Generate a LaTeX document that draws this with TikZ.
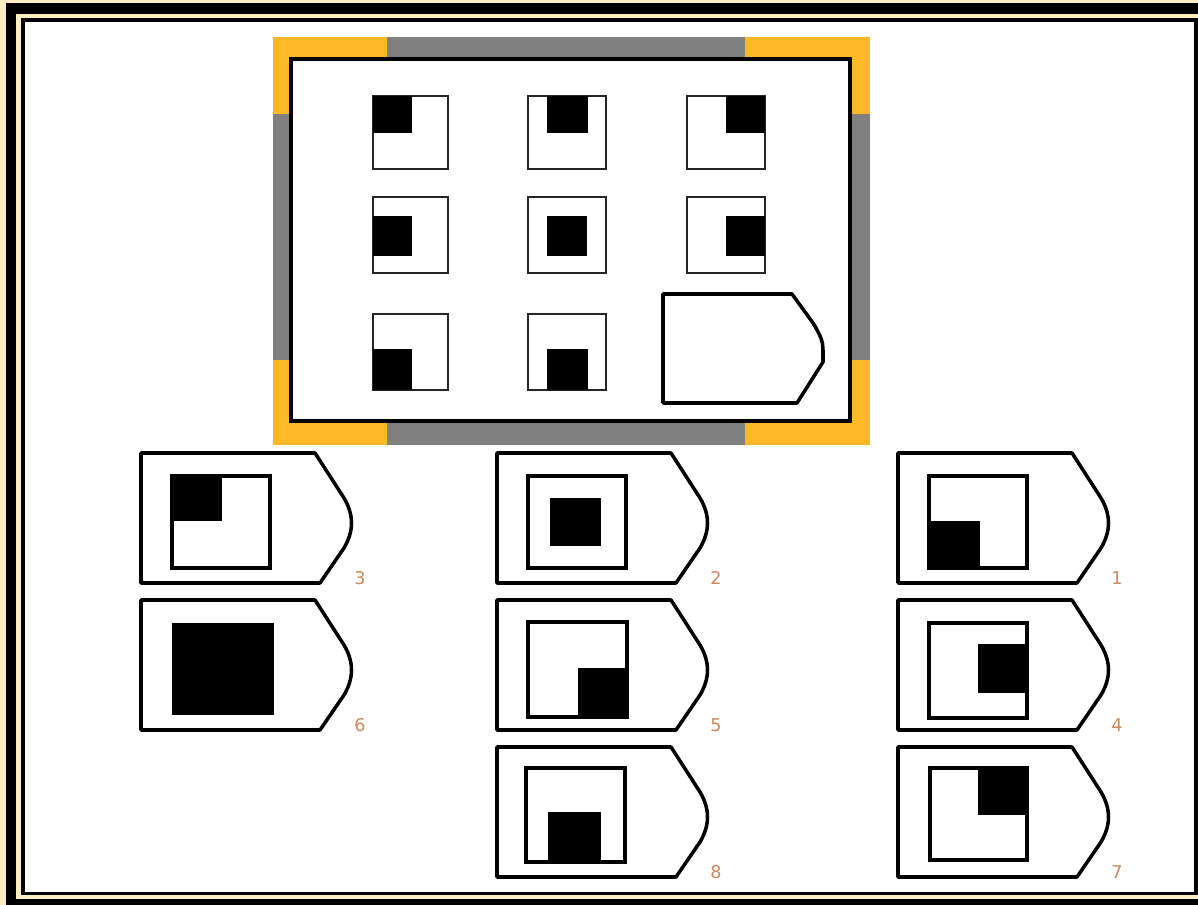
\documentclass[tikz,border=0pt]{standalone}
\usepackage{fontspec}
\setsansfont{DejaVu Sans}
\definecolor{cream}{HTML}{FDEFC3}
\definecolor{gold}{HTML}{FDB827}
\definecolor{band}{HTML}{808080}
\definecolor{numcol}{HTML}{D0875A}
\tikzset{
  tagline/.style={line width=2pt,fill=white,line join=round},
  boxline/.style={line width=1.8pt},
  cellline/.style={line width=1.1pt,draw=black!85},
  numlabel/.style={font=\sffamily\normalsize,text=numcol,inner sep=0pt}
}
\begin{document}
\begin{tikzpicture}[x=0.02cm,y=-0.02cm]
\useasboundingbox (0,0) rectangle (1198,905);
% frame
\fill[cream] (0,0) rectangle (1198,905);
\fill[black] (6,3) rectangle (1198,905);
\fill[cream] (16,14) rectangle (1198,899);
\fill[black] (21,18) rectangle (1198,895);
\fill[white] (25,22) rectangle (1194,892);

% question panel
\fill[gold] (273,37) rectangle (870,445);
\fill[band] (387,37) rectangle (745,59);
\fill[band] (387,421) rectangle (745,445);
\fill[band] (273,114) rectangle (291,360);
\fill[band] (850,114) rectangle (870,360);
\draw[line width=2.6pt,fill=white] (291,59) rectangle (850,421);

% cells
\draw[cellline] (373,96) rectangle (448,169);
\fill (373,96) rectangle (412,133);
\draw[cellline] (528,96) rectangle (606,169);
\fill (547,96) rectangle (588,133);
\draw[cellline] (687,96) rectangle (765,169);
\fill (726,96) rectangle (765,133);

\draw[cellline] (373,197) rectangle (448,273);
\fill (373,216) rectangle (412,256);
\draw[cellline] (528,197) rectangle (606,273);
\fill (547,216) rectangle (587,256);
\draw[cellline] (687,197) rectangle (765,273);
\fill (726,216) rectangle (765,256);

\draw[cellline] (373,314) rectangle (448,390);
\fill (373,349) rectangle (412,390);
\draw[cellline] (528,314) rectangle (606,390);
\fill (547,349) rectangle (588,390);

% empty answer slot
\draw[tagline] (663,294) -- (792,294) -- (813,323)
  .. controls (821,336) and (823,342) .. (823,350) -- (823,362) -- (797,403)
  -- (663,403) -- cycle;

% option tags
\foreach \tx/\ty/\num in {141/453/3, 497/453/2, 898/453/1,
                          141/600/6, 497/600/5, 898/600/4,
                          497/747/8, 898/747/7}
  {
  \draw[tagline,shift={(\tx,\ty)}] (0,0) -- (174,0) -- (203,45)
    .. controls (213,62) and (213,78) .. (203,95) -- (179,130) -- (0,130) -- cycle;
  \node[numlabel] (n\num) at (\tx+219,\ty+125) {\num};
  }

% option 3
\draw[boxline] (172,476) rectangle (270,568);
\fill (172,476) rectangle (222,521);
% option 2
\draw[boxline] (528,476) rectangle (626,568);
\fill (550,498) rectangle (601,546);
% option 1
\draw[boxline] (929,476) rectangle (1027,568);
\fill (929,521) rectangle (980,568);
% option 6
\fill (172,623) rectangle (274,715);
% option 5
\draw[boxline] (528,622) rectangle (627,717);
\fill (578,668) rectangle (627,717);
% option 4
\draw[boxline] (929,623) rectangle (1027,718);
\fill (978,644) rectangle (1027,693);
% option 8
\draw[boxline] (526,768) rectangle (625,862);
\fill (548,812) rectangle (601,862);
% option 7
\draw[boxline] (930,768) rectangle (1027,860);
\fill (978,768) rectangle (1027,815);
\end{tikzpicture}
\end{document}
